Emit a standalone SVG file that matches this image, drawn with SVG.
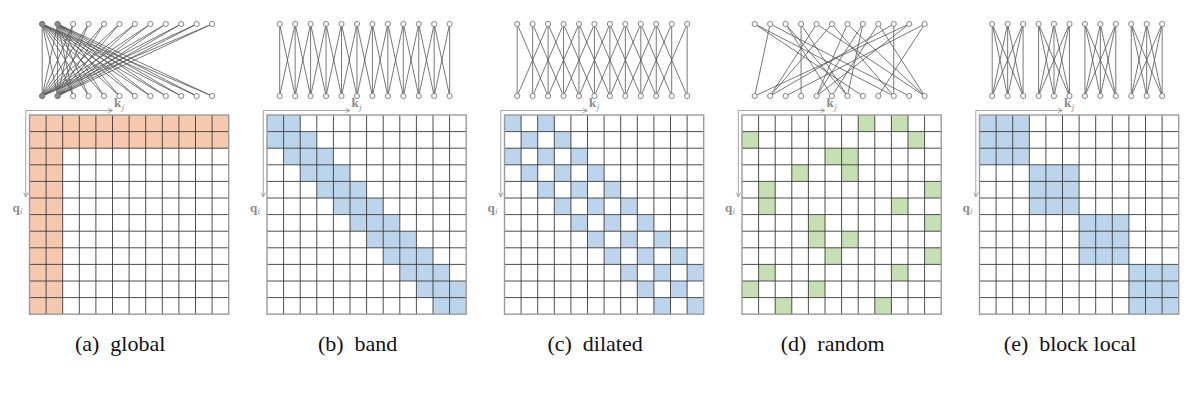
<svg xmlns="http://www.w3.org/2000/svg" xmlns:xlink="http://www.w3.org/1999/xlink" width="1200" height="401" viewBox="0 0 1200 401">
<style>
.edge{fill:none;stroke:#555;stroke-width:0.8}
.node{fill:#fff;stroke:#777;stroke-width:0.9}
.gnode{fill:#8a8a8a;stroke:#777;stroke-width:0.9}
.inner{fill:none;stroke:#3a3a3a;stroke-width:0.9}
.border{fill:none;stroke:#9a9a9a;stroke-width:1.4}
.org{fill:#F6C9AE}
.blu{fill:#BDD5EC}
.grn{fill:#C6E0B4}
.axis{fill:none;stroke:#9a9a9a;stroke-width:0.9}
.lab{font-family:"Liberation Serif",serif;font-weight:bold;font-size:13px;fill:#8a8a8a}
.sub{font-family:"Liberation Serif",serif;font-style:italic;font-weight:normal;font-size:9px;fill:#8a8a8a}
.cap{font-family:"Liberation Serif",serif;font-size:22px;fill:#111}
</style>
<defs>
<marker id="ah" viewBox="0 0 6 6" refX="5" refY="3" markerWidth="6" markerHeight="6" markerUnits="userSpaceOnUse" orient="auto">
<path d="M0.5,0.8 L5,3 L0.5,5.2" fill="none" stroke="#9a9a9a" stroke-width="0.9"/>
</marker>
<g id="nodes">
<circle class="node" cx="12.7" cy="24" r="2.6"/><circle class="node" cx="28.15" cy="24" r="2.6"/><circle class="node" cx="43.6" cy="24" r="2.6"/><circle class="node" cx="59.05" cy="24" r="2.6"/><circle class="node" cx="74.5" cy="24" r="2.6"/><circle class="node" cx="89.95" cy="24" r="2.6"/><circle class="node" cx="105.4" cy="24" r="2.6"/><circle class="node" cx="120.85" cy="24" r="2.6"/><circle class="node" cx="136.3" cy="24" r="2.6"/><circle class="node" cx="151.75" cy="24" r="2.6"/><circle class="node" cx="167.2" cy="24" r="2.6"/><circle class="node" cx="182.65" cy="24" r="2.6"/>
<circle class="node" cx="12.7" cy="96" r="2.6"/><circle class="node" cx="28.15" cy="96" r="2.6"/><circle class="node" cx="43.6" cy="96" r="2.6"/><circle class="node" cx="59.05" cy="96" r="2.6"/><circle class="node" cx="74.5" cy="96" r="2.6"/><circle class="node" cx="89.95" cy="96" r="2.6"/><circle class="node" cx="105.4" cy="96" r="2.6"/><circle class="node" cx="120.85" cy="96" r="2.6"/><circle class="node" cx="136.3" cy="96" r="2.6"/><circle class="node" cx="151.75" cy="96" r="2.6"/><circle class="node" cx="167.2" cy="96" r="2.6"/><circle class="node" cx="182.65" cy="96" r="2.6"/>
</g>
<g id="grid">
<path class="inner" d="M16.6 115V314.2M33.2 115V314.2M49.8 115V314.2M66.4 115V314.2M83 115V314.2M99.6 115V314.2M116.2 115V314.2M132.8 115V314.2M149.4 115V314.2M166 115V314.2M182.6 115V314.2M0 131.6H199.2M0 148.2H199.2M0 164.8H199.2M0 181.4H199.2M0 198H199.2M0 214.6H199.2M0 231.2H199.2M0 247.8H199.2M0 264.4H199.2M0 281H199.2M0 297.6H199.2"/>
<rect class="border" x="0" y="115" width="199.2" height="199.2"/>
</g>
<g id="axes">
<path class="axis" d="M-3.7 110.5H83" marker-end="url(#ah)"/>
<path class="axis" d="M-3.7 110.5V197" marker-end="url(#ah)"/>
<text class="lab" x="84.5" y="107">k<tspan class="sub" dx="0.5" dy="3">j</tspan></text>
<text class="lab" x="-17" y="212">q<tspan class="sub" dx="0.3" dy="2">i</tspan></text>
</g>
</defs>

<g id="connectors">
<path class="edge" transform="translate(29.5,0)" d="M12.7 24L12.7 96M12.7 24L28.15 96M12.7 24L43.6 96M12.7 24L59.05 96M12.7 24L74.5 96M12.7 24L89.95 96M12.7 24L105.4 96M12.7 24L120.85 96M12.7 24L136.3 96M12.7 24L151.75 96M12.7 24L167.2 96M12.7 24L182.65 96M28.15 24L12.7 96M28.15 24L28.15 96M28.15 24L43.6 96M28.15 24L59.05 96M28.15 24L74.5 96M28.15 24L89.95 96M28.15 24L105.4 96M28.15 24L120.85 96M28.15 24L136.3 96M28.15 24L151.75 96M28.15 24L167.2 96M28.15 24L182.65 96M43.6 24L12.7 96M59.05 24L12.7 96M74.5 24L12.7 96M89.95 24L12.7 96M105.4 24L12.7 96M120.85 24L12.7 96M136.3 24L12.7 96M151.75 24L12.7 96M167.2 24L12.7 96M182.65 24L12.7 96M43.6 24L28.15 96M59.05 24L28.15 96M74.5 24L28.15 96M89.95 24L28.15 96M105.4 24L28.15 96M120.85 24L28.15 96M136.3 24L28.15 96M151.75 24L28.15 96M167.2 24L28.15 96M182.65 24L28.15 96"/>
<path class="edge" transform="translate(267,0)" d="M12.7 24V96M28.15 24V96M43.6 24V96M59.05 24V96M74.5 24V96M89.95 24V96M105.4 24V96M120.85 24V96M136.3 24V96M151.75 24V96M167.2 24V96M182.65 24V96M12.7 24L28.15 96M28.15 24L12.7 96M28.15 24L43.6 96M43.6 24L28.15 96M43.6 24L59.05 96M59.05 24L43.6 96M59.05 24L74.5 96M74.5 24L59.05 96M74.5 24L89.95 96M89.95 24L74.5 96M89.95 24L105.4 96M105.4 24L89.95 96M105.4 24L120.85 96M120.85 24L105.4 96M120.85 24L136.3 96M136.3 24L120.85 96M136.3 24L151.75 96M151.75 24L136.3 96M151.75 24L167.2 96M167.2 24L151.75 96M167.2 24L182.65 96M182.65 24L167.2 96"/>
<path class="edge" transform="translate(504.5,0)" d="M12.7 24V96M28.15 24V96M43.6 24V96M59.05 24V96M74.5 24V96M89.95 24V96M105.4 24V96M120.85 24V96M136.3 24V96M151.75 24V96M167.2 24V96M182.65 24V96M12.7 24L43.6 96M43.6 24L12.7 96M28.15 24L59.05 96M59.05 24L28.15 96M43.6 24L74.5 96M74.5 24L43.6 96M59.05 24L89.95 96M89.95 24L59.05 96M74.5 24L105.4 96M105.4 24L74.5 96M89.95 24L120.85 96M120.85 24L89.95 96M105.4 24L136.3 96M136.3 24L105.4 96M120.85 24L151.75 96M151.75 24L120.85 96M136.3 24L167.2 96M167.2 24L136.3 96M151.75 24L182.65 96M182.65 24L151.75 96"/>
<path class="edge" transform="translate(742,0)" d="M12.7 24L120.85 96M12.7 24L151.75 96M28.15 24L12.7 96M28.15 24L167.2 96M43.6 24L89.95 96M43.6 24L105.4 96M59.05 24L59.05 96M59.05 24L105.4 96M74.5 24L28.15 96M74.5 24L182.65 96M89.95 24L28.15 96M89.95 24L151.75 96M105.4 24L74.5 96M105.4 24L182.65 96M120.85 24L74.5 96M120.85 24L105.4 96M136.3 24L89.95 96M136.3 24L182.65 96M151.75 24L28.15 96M151.75 24L151.75 96M167.2 24L12.7 96M167.2 24L74.5 96M182.65 24L43.6 96M182.65 24L136.3 96"/>
<path class="edge" transform="translate(979.5,0)" d="M12.7 24V96M28.15 24V96M43.6 24V96M12.7 24L28.15 96M12.7 24L43.6 96M28.15 24L12.7 96M28.15 24L43.6 96M43.6 24L12.7 96M43.6 24L28.15 96M59.05 24V96M74.5 24V96M89.95 24V96M59.05 24L74.5 96M59.05 24L89.95 96M74.5 24L59.05 96M74.5 24L89.95 96M89.95 24L59.05 96M89.95 24L74.5 96M105.4 24V96M120.85 24V96M136.3 24V96M105.4 24L120.85 96M105.4 24L136.3 96M120.85 24L105.4 96M120.85 24L136.3 96M136.3 24L105.4 96M136.3 24L120.85 96M151.75 24V96M167.2 24V96M182.65 24V96M151.75 24L167.2 96M151.75 24L182.65 96M167.2 24L151.75 96M167.2 24L182.65 96M182.65 24L151.75 96M182.65 24L167.2 96"/>
</g>

<g id="panel-a" transform="translate(29.5,0)">
<use xlink:href="#nodes"/>
<circle class="gnode" cx="12.7" cy="24" r="2.6"/><circle class="gnode" cx="28.15" cy="24" r="2.6"/><circle class="gnode" cx="12.7" cy="96" r="2.6"/><circle class="gnode" cx="28.15" cy="96" r="2.6"/>
<rect class="org" x="0" y="115" width="199.2" height="33.2"/>
<rect class="org" x="0" y="115" width="33.2" height="199.2"/>
<use xlink:href="#grid"/>
<use xlink:href="#axes"/>
<text class="cap" x="90.6" y="351" text-anchor="middle">(a)<tspan dx="11">global</tspan></text>
</g>

<g id="panel-b" transform="translate(267,0)">
<use xlink:href="#nodes"/>
<rect class="blu" x="0" y="115" width="33.2" height="16.6"/>
<rect class="blu" x="0" y="131.6" width="49.8" height="16.6"/>
<rect class="blu" x="16.6" y="148.2" width="49.8" height="16.6"/>
<rect class="blu" x="33.2" y="164.8" width="49.8" height="16.6"/>
<rect class="blu" x="49.8" y="181.4" width="49.8" height="16.6"/>
<rect class="blu" x="66.4" y="198" width="49.8" height="16.6"/>
<rect class="blu" x="83" y="214.6" width="49.8" height="16.6"/>
<rect class="blu" x="99.6" y="231.2" width="49.8" height="16.6"/>
<rect class="blu" x="116.2" y="247.8" width="49.8" height="16.6"/>
<rect class="blu" x="132.8" y="264.4" width="49.8" height="16.6"/>
<rect class="blu" x="149.4" y="281" width="49.8" height="16.6"/>
<rect class="blu" x="166" y="297.6" width="33.2" height="16.6"/>
<use xlink:href="#grid"/>
<use xlink:href="#axes"/>
<text class="cap" x="90.6" y="351" text-anchor="middle">(b)<tspan dx="11">band</tspan></text>
</g>

<g id="panel-c" transform="translate(504.5,0)">
<use xlink:href="#nodes"/>
<g class="blu">
<rect x="0" y="115" width="16.6" height="16.6"/><rect x="33.2" y="115" width="16.6" height="16.6"/>
<rect x="16.6" y="131.6" width="16.6" height="16.6"/><rect x="49.8" y="131.6" width="16.6" height="16.6"/>
<rect x="0" y="148.2" width="16.6" height="16.6"/><rect x="33.2" y="148.2" width="16.6" height="16.6"/><rect x="66.4" y="148.2" width="16.6" height="16.6"/>
<rect x="16.6" y="164.8" width="16.6" height="16.6"/><rect x="49.8" y="164.8" width="16.6" height="16.6"/><rect x="83" y="164.8" width="16.6" height="16.6"/>
<rect x="33.2" y="181.4" width="16.6" height="16.6"/><rect x="66.4" y="181.4" width="16.6" height="16.6"/><rect x="99.6" y="181.4" width="16.6" height="16.6"/>
<rect x="49.8" y="198" width="16.6" height="16.6"/><rect x="83" y="198" width="16.6" height="16.6"/><rect x="116.2" y="198" width="16.6" height="16.6"/>
<rect x="66.4" y="214.6" width="16.6" height="16.6"/><rect x="99.6" y="214.6" width="16.6" height="16.6"/><rect x="132.8" y="214.6" width="16.6" height="16.6"/>
<rect x="83" y="231.2" width="16.6" height="16.6"/><rect x="116.2" y="231.2" width="16.6" height="16.6"/><rect x="149.4" y="231.2" width="16.6" height="16.6"/>
<rect x="99.6" y="247.8" width="16.6" height="16.6"/><rect x="132.8" y="247.8" width="16.6" height="16.6"/><rect x="166" y="247.8" width="16.6" height="16.6"/>
<rect x="116.2" y="264.4" width="16.6" height="16.6"/><rect x="149.4" y="264.4" width="16.6" height="16.6"/><rect x="182.6" y="264.4" width="16.6" height="16.6"/>
<rect x="132.8" y="281" width="16.6" height="16.6"/><rect x="166" y="281" width="16.6" height="16.6"/>
<rect x="149.4" y="297.6" width="16.6" height="16.6"/><rect x="182.6" y="297.6" width="16.6" height="16.6"/>
</g>
<use xlink:href="#grid"/>
<use xlink:href="#axes"/>
<text class="cap" x="90.6" y="351" text-anchor="middle">(c)<tspan dx="11">dilated</tspan></text>
</g>

<g id="panel-d" transform="translate(742,0)">
<use xlink:href="#nodes"/>
<g class="grn">
<rect x="116.2" y="115" width="16.6" height="16.6"/><rect x="149.4" y="115" width="16.6" height="16.6"/>
<rect x="0" y="131.6" width="16.6" height="16.6"/><rect x="166" y="131.6" width="16.6" height="16.6"/>
<rect x="83" y="148.2" width="16.6" height="16.6"/><rect x="99.6" y="148.2" width="16.6" height="16.6"/>
<rect x="49.8" y="164.8" width="16.6" height="16.6"/><rect x="99.6" y="164.8" width="16.6" height="16.6"/>
<rect x="16.6" y="181.4" width="16.6" height="16.6"/><rect x="182.6" y="181.4" width="16.6" height="16.6"/>
<rect x="16.6" y="198" width="16.6" height="16.6"/><rect x="149.4" y="198" width="16.6" height="16.6"/>
<rect x="66.4" y="214.6" width="16.6" height="16.6"/><rect x="182.6" y="214.6" width="16.6" height="16.6"/>
<rect x="66.4" y="231.2" width="16.6" height="16.6"/><rect x="99.6" y="231.2" width="16.6" height="16.6"/>
<rect x="83" y="247.8" width="16.6" height="16.6"/><rect x="182.6" y="247.8" width="16.6" height="16.6"/>
<rect x="16.6" y="264.4" width="16.6" height="16.6"/><rect x="149.4" y="264.4" width="16.6" height="16.6"/>
<rect x="0" y="281" width="16.6" height="16.6"/><rect x="66.4" y="281" width="16.6" height="16.6"/>
<rect x="33.2" y="297.6" width="16.6" height="16.6"/><rect x="132.8" y="297.6" width="16.6" height="16.6"/>
</g>
<use xlink:href="#grid"/>
<use xlink:href="#axes"/>
<text class="cap" x="90.6" y="351" text-anchor="middle">(d)<tspan dx="11">random</tspan></text>
</g>

<g id="panel-e" transform="translate(979.5,0)">
<use xlink:href="#nodes"/>
<g class="blu">
<rect x="0" y="115" width="49.8" height="49.8"/>
<rect x="49.8" y="164.8" width="49.8" height="49.8"/>
<rect x="99.6" y="214.6" width="49.8" height="49.8"/>
<rect x="149.4" y="264.4" width="49.8" height="49.8"/>
</g>
<use xlink:href="#grid"/>
<use xlink:href="#axes"/>
<text class="cap" x="90.6" y="351" text-anchor="middle">(e)<tspan dx="11">block local</tspan></text>
</g>
</svg>
